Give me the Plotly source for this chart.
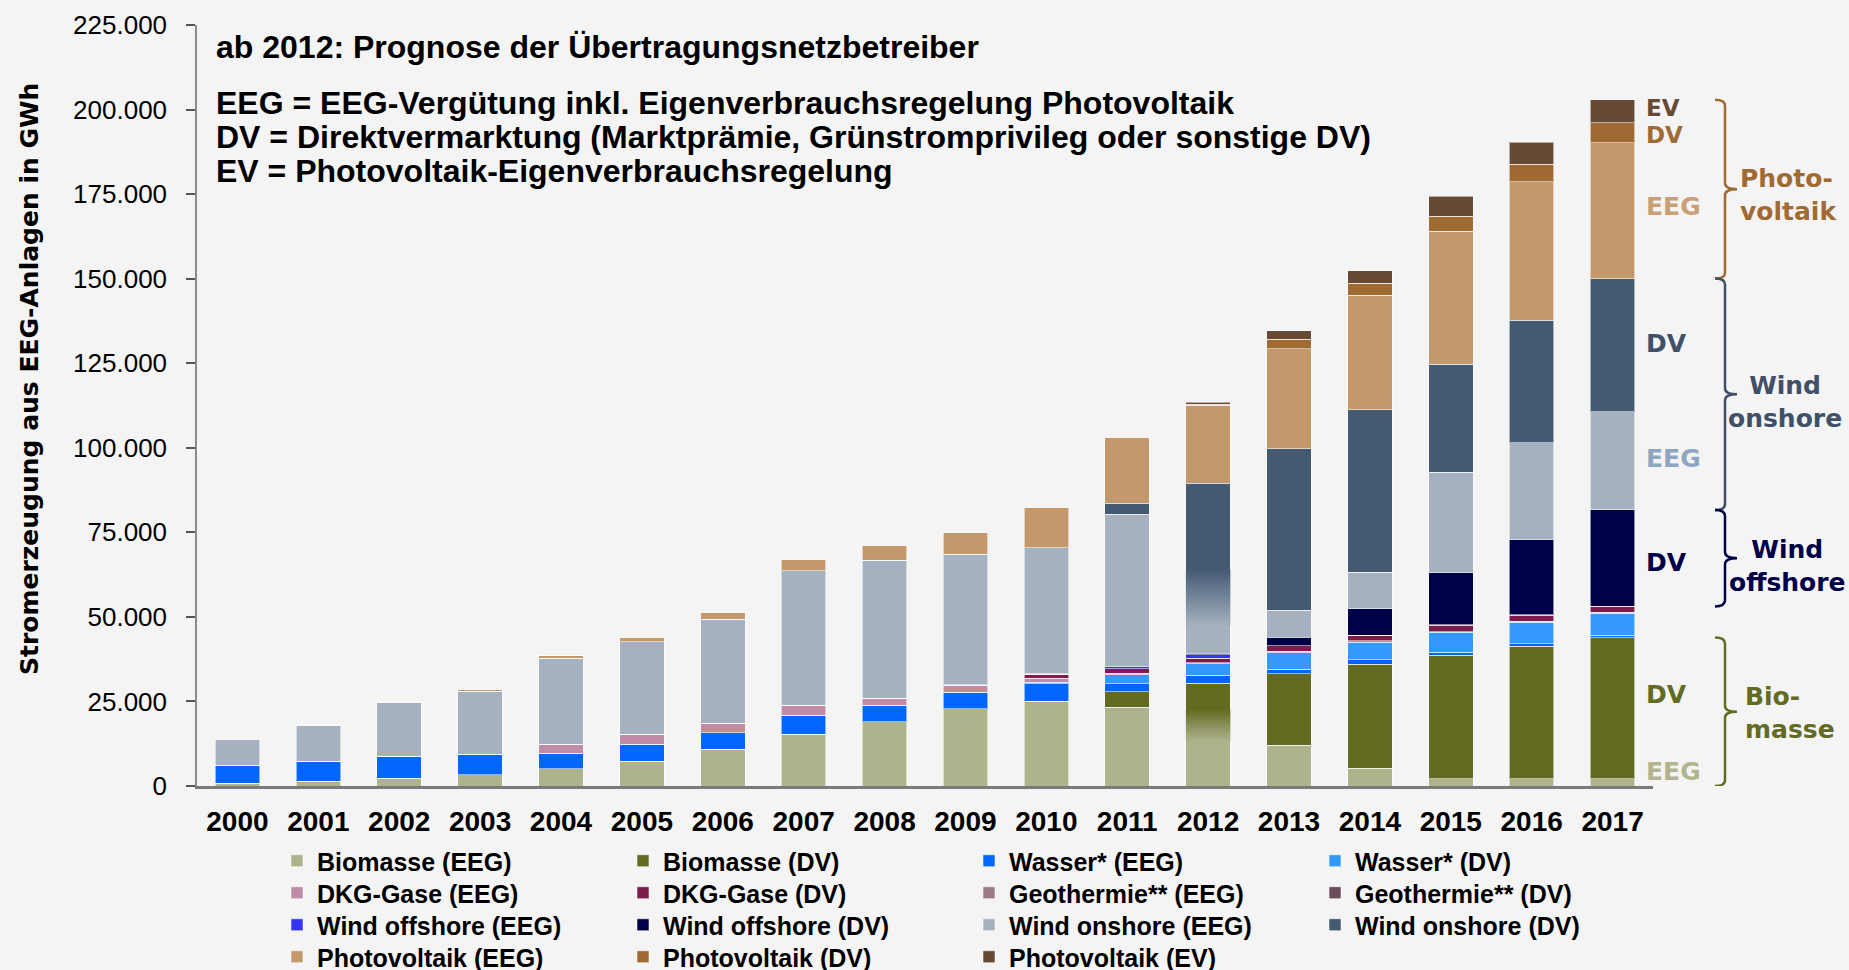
import plotly.graph_objects as go

# Stromerzeugung aus EEG-Anlagen in GWh, 2000-2017 (ab 2012 Prognose)
jahre = list(range(2000, 2018))

biomasse_eeg = [790, 1380, 2360, 3350, 5120, 7290, 10840, 15370, 19010, 22850,
                25120, 23270, 17750, 12030, 5230, 2200, 2200, 2200]
biomasse_dv = [0, 0, 0, 0, 0, 0, 0, 0, 0, 0,
               0, 4640, 12620, 21110, 30770, 36530, 39110, 41700]
wasser_eeg = [5310, 5900, 6500, 6000, 4620, 5020, 4920, 5510, 4830, 4930,
              5120, 2270, 2370, 1380, 1280, 815, 815, 640]
wasser_dv = [0, 0, 0, 0, 0, 0, 0, 0, 0, 0,
             490, 2660, 3360, 4930, 5230, 5910, 6320, 6590]
dkg_eeg = [0, 0, 0, 0, 2560, 2960, 2760, 3060, 2070, 2070,
           1070, 490, 390, 390, 390, 200, 200, 200]
dkg_dv = [0, 0, 0, 0, 0, 0, 0, 0, 0, 0,
          1200, 1380, 1180, 1580, 1580, 1900, 1900, 1630]
geo_eeg = [0, 0, 0, 0, 0, 0, 0, 0, 18, 19,
           28, 19, 25, 30, 40, 50, 60, 70]
geo_dv = [0, 0, 0, 0, 0, 0, 0, 0, 0, 0,
          0, 0, 15, 20, 30, 40, 50, 60]
offshore_eeg = [0, 0, 0, 0, 0, 0, 0, 0, 0, 38,
                170, 600, 1150, 0, 0, 0, 0, 0]
offshore_dv = [0, 0, 0, 0, 0, 0, 0, 0, 0, 0,
               0, 0, 390, 2470, 7890, 15480, 22140, 28520]
onshore_eeg = [7580, 10730, 15840, 18700, 25500, 27380, 30730, 39690, 40770, 38610,
               37260, 45070, 16470, 8080, 10750, 29600, 28650, 29060]
onshore_dv = [0, 0, 0, 0, 0, 0, 0, 0, 0, 0,
              0, 3150, 33730, 47730, 48120, 31910, 36260, 39380]
pv_eeg = [100, 200, 300, 500, 700, 1280, 2170, 3350, 4440, 6510,
          11920, 19530, 23150, 29530, 33780, 39380, 40880, 40200]
pv_dv = [0, 0, 0, 0, 0, 0, 0, 0, 0, 0,
         0, 0, 300, 2870, 3550, 4480, 5300, 5840]
pv_ev = [0, 0, 0, 0, 0, 0, 0, 0, 0, 0,
         0, 0, 500, 2460, 3740, 5840, 6520, 6790]

# 2012: fliessender Uebergang EEG -> DV (Prognosebeginn), Bereich in GWh
uebergang_2012_biomasse = (13250, 22650)
uebergang_2012_onshore = (47300, 64000)

reihen = [
    ("Biomasse (EEG)", biomasse_eeg, "#afb38c"),
    ("Biomasse (DV)", biomasse_dv, "#626b21"),
    ("Wasser* (EEG)", wasser_eeg, "#0066ff"),
    ("Wasser* (DV)", wasser_dv, "#3399ff"),
    ("DKG-Gase (EEG)", dkg_eeg, "#bf8ba6"),
    ("DKG-Gase (DV)", dkg_dv, "#7b1c4a"),
    ("Geothermie** (EEG)", geo_eeg, "#9b7b87"),
    ("Geothermie** (DV)", geo_dv, "#6b4c5a"),
    ("Wind offshore (EEG)", offshore_eeg, "#3333ff"),
    ("Wind offshore (DV)", offshore_dv, "#000046"),
    ("Wind onshore (EEG)", onshore_eeg, "#a6b1bf"),
    ("Wind onshore (DV)", onshore_dv, "#445a73"),
    ("Photovoltaik (EEG)", pv_eeg, "#c3996c"),
    ("Photovoltaik (DV)", pv_dv, "#a06b33"),
    ("Photovoltaik (EV)", pv_ev, "#674a36"),
]
farbe = {name: c for name, _, c in reihen}

BG = "#f4f4f4"
ARIAL = "Liberation Sans, Arial, sans-serif"
VERDANA = "DejaVu Sans, Verdana, sans-serif"
BAR_W = 0.55

# plot area in pixels
W, H = 1849, 970
L, R, T, B = 197, 196, 25, 184
PW, PH = W - L - R, H - T - B


def px_x(px):
    return (px - L) / PW


def px_y(py):
    return (H - B - py) / PH


fig = go.Figure()
legenden = ["legend", "legend2", "legend3", "legend4"]
for i, (name, werte, c) in enumerate(reihen):
    fig.add_trace(go.Bar(
        x=jahre, y=werte, name=name, width=BAR_W,
        marker=dict(color=c, line=dict(color="rgba(255,255,255,0.55)", width=1)),
        legend=legenden[i // 4],
    ))

# Uebergangsverlauf im Jahr 2012
i12 = jahre.index(2012)
for (lo, hi), unten, oben in [
    (uebergang_2012_biomasse, "Biomasse (EEG)", "Biomasse (DV)"),
    (uebergang_2012_onshore, "Wind onshore (EEG)", "Wind onshore (DV)"),
]:
    x0, x1 = jahre[i12] - BAR_W / 2, jahre[i12] + BAR_W / 2
    fig.add_trace(go.Scatter(
        x=[x0, x1, x1, x0, x0], y=[lo, lo, hi, hi, lo],
        mode="lines", line=dict(width=0), fill="toself",
        fillgradient=dict(type="vertical", start=lo, stop=hi,
                          colorscale=[[0, farbe[unten]], [1, farbe[oben]]]),
        hoverinfo="skip", showlegend=False,
    ))

# stack boundaries of the last year for the brackets on the right
letztes = -1
kum = [0]
for _, werte, _ in reihen:
    kum.append(kum[-1] + werte[letztes])
grenze = {name: (kum[k], kum[k + 1]) for k, (name, _, _) in enumerate(reihen)}

gruppen = [
    ("Photo-<br>voltaik", grenze["Photovoltaik (EEG)"][0], grenze["Photovoltaik (EV)"][1],
     "#a06b33", "left", px_x(1738), -6),
    ("Wind<br>onshore", grenze["Wind onshore (EEG)"][0], grenze["Wind onshore (DV)"][1],
     "#3f5068", "center", px_x(1785), -8),
    ("Wind<br>offshore", grenze["Wind offshore (EEG)"][0], grenze["Wind offshore (DV)"][1],
     "#000046", "center", px_x(1788), -8),
    ("Bio-<br>masse", 0, grenze["Biomasse (DV)"][1],
     "#626b21", "left", px_x(1743), -1),
]

shapes = []
annotations = []
xe, xs, xt = px_x(1715), px_x(1725), px_x(1737)
r = 1800
for text, lo, hi, c, anchor, xl, dy in gruppen:
    ym = (lo + hi) / 2
    path = (f"M {xe},{hi} Q {xs},{hi} {xs},{hi - r} L {xs},{ym + r} "
            f"Q {xs},{ym} {xt},{ym} Q {xs},{ym} {xs},{ym - r} "
            f"L {xs},{lo + r} Q {xs},{lo} {xe},{lo}")
    shapes.append(dict(type="path", path=path, xref="paper", yref="y",
                       line=dict(color=c, width=2.5)))
    annotations.append(dict(
        text=text, x=xl, y=ym, xref="paper", yref="y", yshift=dy,
        xanchor=anchor, yanchor="middle", align=anchor, showarrow=False,
        font=dict(family=VERDANA, size=25, color=c, weight="bold"),
    ))

# segment labels next to the last bar (pixel rows)
seg_labels = [
    ("EV", 108, "#674a36", 23),
    ("DV", 135, "#a06b33", 23),
    ("EEG", 206, "#c8a078", 25),
    ("DV", 343, "#3f5068", 25),
    ("EEG", 458, "#8ea6c2", 25),
    ("DV", 562, "#000046", 25),
    ("DV", 694, "#626b21", 25),
    ("EEG", 771, "#b1b58f", 25),
]
for text, py, c, fs in seg_labels:
    annotations.append(dict(
        text=text, x=px_x(1644), y=px_y(py), xref="paper", yref="paper",
        xanchor="left", yanchor="middle", showarrow=False,
        font=dict(family=VERDANA, size=fs, color=c, weight="bold"),
    ))

# explanatory text block
kopf = [
    ("ab 2012: Prognose der Übertragungsnetzbetreiber", 47),
    ("EEG = EEG-Vergütung inkl. Eigenverbrauchsregelung Photovoltaik", 103),
    ("DV = Direktvermarktung (Marktprämie, Grünstromprivileg oder sonstige DV)", 137),
    ("EV = Photovoltaik-Eigenverbrauchsregelung", 171),
]
for text, py in kopf:
    annotations.append(dict(
        text=text, x=px_x(214), y=px_y(py), xref="paper", yref="paper",
        xanchor="left", yanchor="middle", showarrow=False,
        font=dict(family=ARIAL, size=32, color="black", weight="bold"),
    ))

# y axis title
annotations.append(dict(
    text="Stromerzeugung aus EEG-Anlagen in GWh", x=px_x(30), y=px_y(379),
    xref="paper", yref="paper", textangle=-90, showarrow=False,
    xanchor="center", yanchor="middle",
    font=dict(family=VERDANA, size=25, color="black", weight="bold"),
))

legend_rows = [861, 893, 925, 957]
legend_cfg = {}
for k, py in enumerate(legend_rows):
    legend_cfg[legenden[k]] = dict(
        orientation="h", x=px_x(277), y=px_y(py), xanchor="left", yanchor="middle",
        entrywidth=301, entrywidthmode="pixels", traceorder="normal",
        bgcolor="rgba(0,0,0,0)",
        font=dict(family=ARIAL, size=25, color="black", weight="bold"),
    )

fig.update_layout(
    width=W, height=H,
    margin=dict(l=L, r=R, t=T, b=B, autoexpand=False),
    paper_bgcolor=BG, plot_bgcolor=BG,
    barmode="stack",
    separators=",.",
    shapes=shapes,
    annotations=annotations,
    **legend_cfg,
    xaxis=dict(
        range=[jahre[0] - 0.5, jahre[-1] + 0.5],
        tickvals=jahre, ticktext=[str(j) for j in jahre],
        showgrid=False, zeroline=False,
        showline=True, linecolor="#7a7a7a", linewidth=2.5,
        ticks="", ticklabelstandoff=9,
        tickfont=dict(family=ARIAL, size=28, color="black", weight="bold"),
    ),
    yaxis=dict(
        range=[0, 225000], dtick=25000, tickformat=",d",
        showgrid=False, zeroline=False,
        showline=True, linecolor="#8a8a8a", linewidth=1.5,
        ticks="outside", ticklen=9, tickwidth=1.5, tickcolor="#555555",
        ticklabelstandoff=14,
        tickfont=dict(family=ARIAL, size=26, color="black"),
    ),
)

fig.write_html("out.html")
